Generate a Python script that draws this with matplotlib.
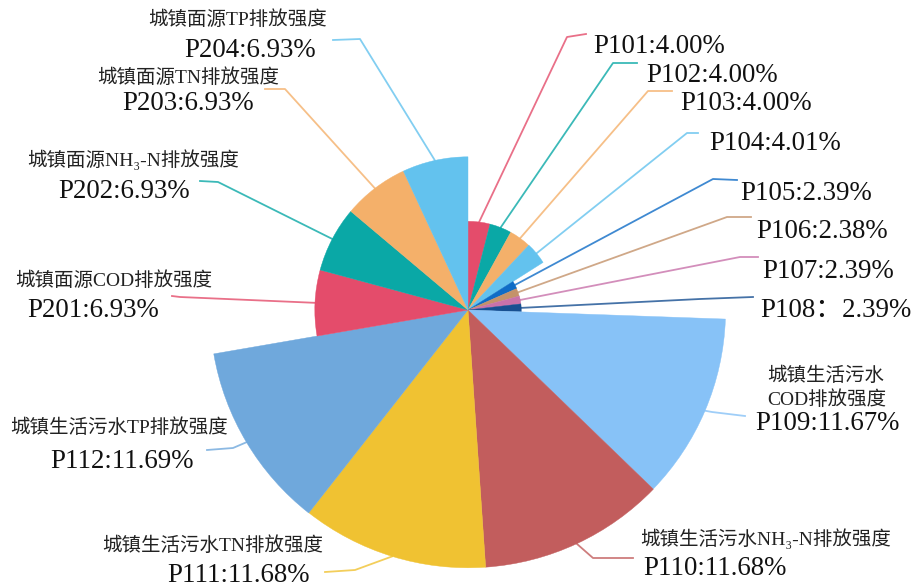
import numpy as np
import matplotlib
matplotlib.use("Agg")
import matplotlib.pyplot as plt
from matplotlib.patches import Wedge

# ---------------- data ----------------
codes = ["P101", "P102", "P103", "P104", "P105", "P106", "P107", "P108",
         "P109", "P110", "P111", "P112", "P201", "P202", "P203", "P204"]
values = [4.00, 4.00, 4.00, 4.01, 2.39, 2.38, 2.39, 2.39,
          11.67, 11.68, 11.68, 11.69, 6.93, 6.93, 6.93, 6.93]
names = ["", "", "", "", "", "", "", "",
         "城镇生活污水\nCOD排放强度", "城镇生活污水NH₃-N排放强度",
         "城镇生活污水TN排放强度", "城镇生活污水TP排放强度",
         "城镇面源COD排放强度", "城镇面源NH₃-N排放强度",
         "城镇面源TN排放强度", "城镇面源TP排放强度"]
separators = [":"] * 7 + ["："] + [":"] * 8
colors = ["#e44c6b", "#0aa8a6", "#f4b06a", "#63c2ee", "#0f6cc6", "#c4926a",
          "#c872aa", "#174f91", "#87c2f7", "#c25d5d", "#f0c232", "#6fa8dc",
          "#e44c6b", "#0aa8a6", "#f4b06a", "#63c2ee"]

# ---------------- layout (reference pixel coords, y downward) ----------------
W, H = 917, 588
CX, CY = 468, 310
RMIN, RMAX = 53, 258
# value label: (x_left, baseline); name label: list of (x_left, baseline)
val_pos = {
    "P101": (593, 53), "P102": (646, 82), "P103": (680, 110), "P104": (709, 150),
    "P105": (740, 200), "P106": (756, 238), "P107": (762, 278), "P108": (760, 317),
    "P109": (755, 430), "P110": (643, 575), "P111": (167, 582), "P112": (50, 468),
    "P201": (27, 317), "P202": (58, 198), "P203": (122, 110), "P204": (184, 57),
}
name_pos = {
    "P109": [(767, 381), (767, 405)], "P110": [(640, 545)], "P111": [(102, 551)],
    "P112": [(10, 433)], "P201": [(15, 286)], "P202": [(27, 166)],
    "P203": [(97, 83)], "P204": [(148, 25)],
}
leader = {  # bend point, end point
    "P101": [(567, 37), (586, 34)], "P102": [(613, 63), (637, 63)],
    "P103": [(648, 91), (672, 91)], "P104": [(687, 133), (698, 133)],
    "P105": [(713, 179), (737, 180)], "P106": [(727, 217), (751, 217)],
    "P107": [(740, 257), (758, 257)], "P108": [(700, 299), (753, 297)],
    "P109": [(712, 412), (745, 416)], "P110": [(593, 558), (633, 558)],
    "P111": [(355, 570), (325, 572)], "P112": [(233, 448), (207, 450)],
    "P201": [(180, 297), (172, 296)], "P202": [(218, 182), (200, 181)],
    "P203": [(285, 89), (265, 89)], "P204": [(360, 39), (333, 40)],
}

FONT = ["Liberation Serif", "Noto Sans CJK SC", "DejaVu Sans"]
plt.rcParams["font.family"] = FONT

fig = plt.figure(figsize=(W / 100, H / 100), dpi=100)
ax = fig.add_axes([0, 0, 1, 1])
ax.set_xlim(0, W)
ax.set_ylim(0, H)
ax.axis("off")


def Y(y):
    return H - y


vals = np.array(values)
total = vals.sum()
vmin, vmax = vals.min(), vals.max()
radii = RMIN + (vals - vmin) / (vmax - vmin) * (RMAX - RMIN)
spans = vals / total * 360.0
ends = 90.0 - np.cumsum(spans)
starts = ends + spans

for i, code in enumerate(codes):
    w = Wedge((CX, Y(CY)), radii[i], ends[i], starts[i], facecolor=colors[i],
              edgecolor=colors[i], linewidth=0.3, zorder=2)
    ax.add_patch(w)

for i, code in enumerate(codes):
    mid = np.deg2rad((starts[i] + ends[i]) / 2)
    sx = CX + radii[i] * np.cos(mid)
    sy = Y(CY) + radii[i] * np.sin(mid)
    (bx, by), (ex, ey) = leader[code]
    ax.plot([sx, bx, ex], [sy, Y(by), Y(ey)], color=colors[i], alpha=0.8,
            lw=1.3, solid_joinstyle="round", zorder=1)
    vx, vy = val_pos[code]
    ax.text(vx, Y(vy), f"{code}{separators[i]}{values[i]:.2f}%", fontsize=19.4,
            ha="left", va="baseline", color="#111111", family=FONT)
    if names[i]:
        for line, (nx, ny) in zip(names[i].split("\n"), name_pos[code]):
            ax.text(nx, Y(ny), line, fontsize=14.0, ha="left", va="baseline",
                    color="#222222", family=FONT)

fig.savefig("out.png", dpi=100, facecolor="white")
